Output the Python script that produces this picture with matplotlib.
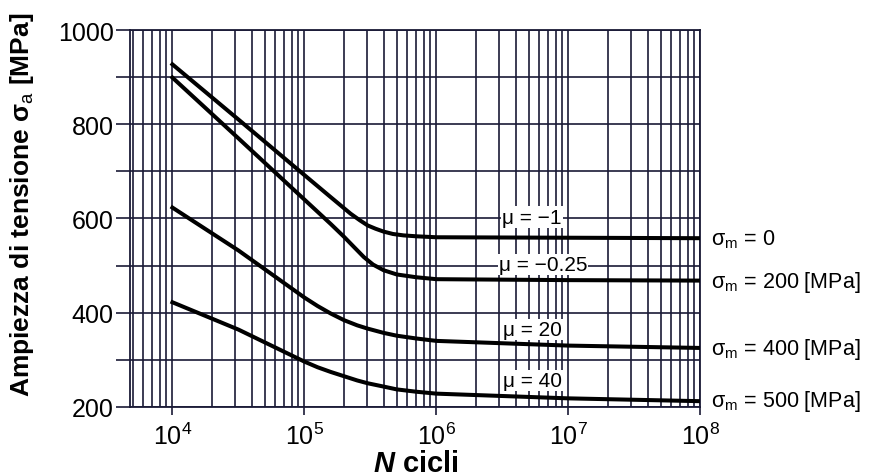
import numpy as np
import matplotlib.pyplot as plt
from matplotlib.ticker import LogLocator, MultipleLocator, NullFormatter
import matplotlib.transforms as mtransforms

plt.rcParams['font.family'] = ['Liberation Sans', 'DejaVu Sans']
plt.rcParams['mathtext.fontset'] = 'custom'
plt.rcParams['mathtext.rm'] = 'Liberation Sans'
plt.rcParams['mathtext.it'] = 'Liberation Sans:italic'
plt.rcParams['mathtext.bf'] = 'Liberation Sans:bold:italic'

# dati (log10 N, ampiezza in MPa)
logN_0 = [4.0, 4.5, 5.0, 5.2, 5.35, 5.42, 5.48, 5.54, 5.6, 5.67, 5.75, 5.85, 6.0, 7.0, 8.0]
sa_0 = [927, 810, 692, 645, 610, 596, 585, 578, 572, 567, 564, 562, 560, 559, 558]

logN_200 = [4.0, 4.5, 5.0, 5.2, 5.3, 5.38, 5.45, 5.52, 5.6, 5.7, 5.85, 6.0, 7.0, 8.0]
sa_200 = [899, 770, 640, 588, 561, 538, 518, 502, 490, 481, 475, 471, 469, 468]

logN_400 = [4.0, 4.5, 5.0, 5.1, 5.2, 5.3, 5.4, 5.48, 5.6, 5.7, 5.85, 6.0, 7.0, 8.0]
sa_400 = [623, 532, 432, 414, 398, 384, 373, 366, 357, 351, 345, 340, 330, 325]

logN_500 = [4.0, 4.5, 5.0, 5.1, 5.2, 5.3, 5.4, 5.48, 5.6, 5.7, 5.85, 6.0, 7.0, 8.0]
sa_500 = [422, 364, 296, 284, 274, 265, 256, 250, 243, 237, 232, 228, 218, 212]

curve_logN = [logN_0, logN_200, logN_400, logN_500]
curve_sa = [sa_0, sa_200, sa_400, sa_500]

mu_labels = ['μ = −1', 'μ = −0.25', 'μ = 20', 'μ = 40']
mu_pos = [(5.3e6, 603), (6.4e6, 503), (5.3e6, 364), (5.3e6, 255)]
sm_labels = ['σ$_\\mathrm{m}$ = 0', 'σ$_\\mathrm{m}$ = 200 [MPa]',
             'σ$_\\mathrm{m}$ = 400 [MPa]', 'σ$_\\mathrm{m}$ = 500 [MPa]']
sm_y = [558, 466, 324, 214]

grid_col = '#1a1a36'

fig = plt.figure(figsize=(8.69, 4.77), dpi=100)
ax = fig.add_axes([0.150, 0.145, 0.656, 0.790])

for lg, sa in zip(curve_logN, curve_sa):
    ax.plot(10 ** np.array(lg), sa, color='black', linewidth=2.9,
            solid_joinstyle='round', zorder=3)

ax.set_xscale('log')
ax.set_xlim(4.8e3, 1e8)
ax.set_ylim(200, 1000)

ax.xaxis.set_major_locator(LogLocator(base=10, numticks=10))
ax.xaxis.set_minor_locator(LogLocator(base=10, subs=np.arange(2, 10), numticks=20))
ax.xaxis.set_minor_formatter(NullFormatter())
ax.yaxis.set_major_locator(MultipleLocator(200))
ax.yaxis.set_minor_locator(MultipleLocator(100))

ax.grid(which='both', color=grid_col, linewidth=1.2)
ax.set_axisbelow(True)
for s in ax.spines.values():
    s.set_color(grid_col)
    s.set_linewidth(1.3)

ax.tick_params(axis='y', which='both', length=10, width=1.2, color=grid_col,
               labelsize=18, pad=2)
ax.tick_params(axis='x', which='major', length=6, width=1.2, color=grid_col,
               labelsize=18, pad=5)
ax.tick_params(axis='x', which='minor', length=0)

# etichette mu con sfondo bianco
for lab, (xx, yy) in zip(mu_labels, mu_pos):
    ax.text(xx, yy, lab, fontsize=15, ha='center', va='center', zorder=4,
            bbox=dict(facecolor='white', edgecolor='none', pad=0.8))

# etichette sigma_m a destra
trans = mtransforms.blended_transform_factory(ax.transAxes, ax.transData)
for lab, yy in zip(sm_labels, sm_y):
    ax.text(1.018, yy, lab, transform=trans, fontsize=15.5, ha='left', va='center',
            clip_on=False)

ax.set_ylabel('Ampiezza di tensione σ$_\\mathrm{a}$ [MPa]', fontsize=19,
              fontweight='bold')
ax.yaxis.set_label_coords(-0.165, 0.54)
ax.set_xlabel('$\\mathbf{N}$ cicli', fontsize=21, fontweight='bold', labelpad=0)

fig.savefig('out.png', dpi=100)
